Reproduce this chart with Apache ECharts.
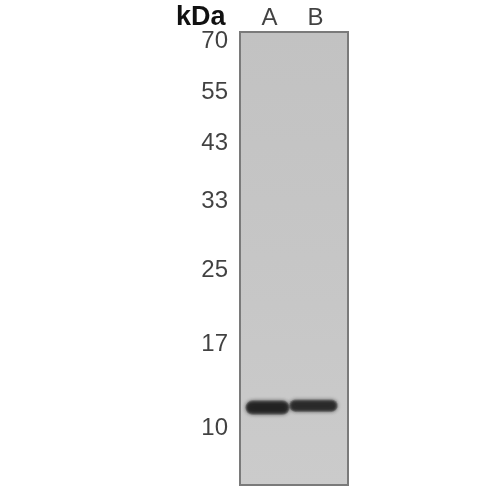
<!DOCTYPE html>
<html>
<head>
<meta charset="utf-8">
<script src="https://cdn.jsdelivr.net/npm/echarts@6/dist/echarts.min.js"></script>
<style>
  html, body { margin: 0; padding: 0; background: #fff; }
  #blot { width: 500px; height: 500px; }
</style>
</head>
<body>
<div id="blot"></div>
<script>
// marker ladder (kDa) and where each sits down the membrane (% of membrane height)
var markerKda = [70, 55, 43, 33, 25, 17, 10];
var markerPos = [2.0, 13.4, 24.6, 37.4, 52.6, 68.9, 87.6];

// lanes: name, centre across membrane (%), band position, band width, band thickness
var lanes = ['A', 'B'];
var laneCenter = [25.5, 68];
var bandPos = [82.9, 82.5];
var bandWidth = [41, 45];
var bandThick = [2.0, 1.7];
var bandShade = ['#1e1e1e', '#262626'];

var FONT = '"Liberation Sans", Arial, sans-serif';

var myChart = echarts.init(document.getElementById('blot'));

var markerData = [];
for (var i = 0; i < markerKda.length; i++) {
    markerData.push([0, markerPos[i], markerKda[i]]);
}
var laneData = [];
var bandData = [];
for (var j = 0; j < lanes.length; j++) {
    laneData.push([laneCenter[j], 0, lanes[j]]);
    bandData.push([laneCenter[j], bandPos[j], bandWidth[j], bandThick[j], j]);
}

option = {
    backgroundColor: '#fff',
    animation: false,
    grid: {
        left: 240,
        top: 32,
        width: 108,
        height: 453,
        show: true,
        borderColor: '#7a7a7a',
        borderWidth: 2,
        backgroundColor: {
            type: 'linear', x: 0, y: 0, x2: 0, y2: 1,
            colorStops: [
                { offset: 0, color: '#c2c2c2' },
                { offset: 0.5, color: '#c6c6c6' },
                { offset: 1, color: '#cbcbcb' }
            ]
        }
    },
    xAxis: { type: 'value', min: 0, max: 100, show: false },
    yAxis: { type: 'value', min: 0, max: 100, inverse: true, show: false },
    graphic: [{
        type: 'text',
        left: 176,
        top: 4,
        style: { text: 'kDa', font: 'bold 27px ' + FONT, fill: '#111' }
    }],
    series: [
        {
            // protein bands, stacked soft layers so the edges fade out
            type: 'custom',
            clip: false,
            data: bandData,
            renderItem: function (params, api) {
                var c = api.coord([api.value(0), api.value(1)]);
                var s = api.size([api.value(2), api.value(3)]);
                var w = s[0], h = s[1];
                var shade = bandShade[api.value(4)];
                var kids = [];
                for (var k = 0; k < 5; k++) {
                    var hh = h * (1.6 - 0.22 * k);
                    var ww = w * (1 - 0.035 * k);
                    kids.push({
                        type: 'rect',
                        shape: { x: c[0] - ww / 2, y: c[1] - hh / 2, width: ww, height: hh, r: hh / 2 },
                        style: { fill: shade, opacity: 0.3, shadowBlur: 4, shadowColor: shade }
                    });
                }
                return { type: 'group', children: kids };
            }
        },
        {
            // ladder labels
            type: 'scatter',
            clip: false,
            symbolSize: 0,
            data: markerData,
            label: {
                show: true,
                position: 'left',
                distance: 12,
                fontFamily: FONT,
                fontSize: 24,
                color: '#111',
                formatter: function (p) { return p.value[2]; }
            }
        },
        {
            // lane labels
            type: 'scatter',
            clip: false,
            symbolSize: 0,
            data: laneData,
            label: {
                show: true,
                position: 'top',
                distance: 2,
                offset: [2, 0],
                fontFamily: FONT,
                fontSize: 24,
                color: '#111',
                formatter: function (p) { return p.value[2]; }
            }
        }
    ]
};

myChart.setOption(option);
</script>
</body>
</html>
